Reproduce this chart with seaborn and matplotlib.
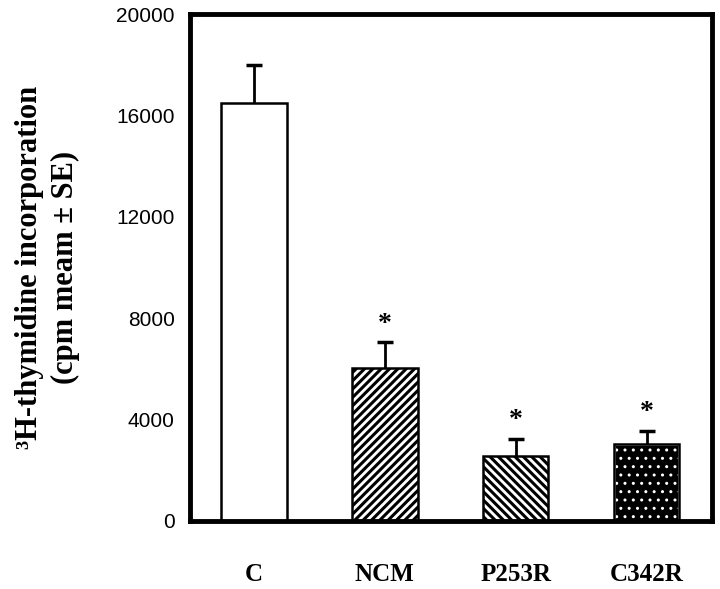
import numpy as np
import pandas as pd
import matplotlib
matplotlib.use('Agg')
import matplotlib.pyplot as plt
from matplotlib.patches import Rectangle
import seaborn as sns

# Данные
groups = ['C', 'NCM', 'P253R', 'C342R']
cpm_mean = [16500, 6050, 2550, 3050]
cpm_se = [1500, 1000, 700, 500]
significant = [False, True, True, True]

sns.set_style('white')
plt.rcParams['hatch.linewidth'] = 2.2
plt.rcParams['text.color'] = 'black'
plt.rcParams['axes.labelcolor'] = 'black'
plt.rcParams['xtick.color'] = 'black'
plt.rcParams['ytick.color'] = 'black'

df = pd.DataFrame({'group': groups, 'cpm': cpm_mean})

fig = plt.figure(figsize=(7.2, 5.89), dpi=100)
ax = fig.add_axes([190 / 720, 68 / 589, 522 / 720, 507 / 589])

sns.barplot(data=df, x='group', y='cpm', color='white', width=0.5,
            edgecolor='black', linewidth=1.8, errorbar=None, ax=ax)

# штриховка
fills = ['white', 'white', 'white', 'black']
hatches = [None, '////', '\\\\\\\\', '..']
for p, fc, h in list(zip(ax.patches, fills, hatches)):
    p.set_facecolor(fc)
    if h:
        p.set_hatch(h)
    if fc == 'black':
        # белые точки на черном фоне + черная рамка сверху
        p.set_edgecolor('white')
        if hasattr(p, 'set_hatch_linewidth'):
            p.set_hatch_linewidth(1.0)
        ax.add_patch(Rectangle(p.get_xy(), p.get_width(), p.get_height(),
                               fill=False, edgecolor='black', linewidth=1.8,
                               zorder=p.get_zorder() + 0.1))

x = np.arange(len(groups))
eb = ax.errorbar(x, cpm_mean, yerr=[np.zeros(len(cpm_se)), cpm_se], fmt='none',
                 ecolor='black', elinewidth=2, capsize=5.5, capthick=2.5)
eb[1][0].set_visible(False)  # нижний колпачок не нужен

for xi, m, se, s in zip(x, cpm_mean, cpm_se, significant):
    if s:
        ax.text(xi, m + se + 720, '*', ha='center', va='center',
                fontsize=20, fontweight='bold', family='Liberation Serif')

ax.set_xlim(-0.49, 3.5)
ax.set_ylim(0, 20000)
ax.set_yticks([0, 4000, 8000, 12000, 16000, 20000])
ax.set_yticklabels(['0', '4000', '8000', '12000', '16000', '20000'],
                   family='Liberation Sans', fontsize=15)
ax.set_xticks(x)
ax.set_xticklabels(groups, family='Liberation Serif', fontweight='bold', fontsize=18)
ax.tick_params(axis='x', length=0, pad=30)
ax.tick_params(axis='y', length=0, pad=11)
ax.set_xlabel('')
ax.set_ylabel('³H-thymidine incorporation\n(cpm meam ± SE)',
              family='Liberation Serif', fontweight='bold', fontsize=22,
              labelpad=26, linespacing=1.3)

for sp in ax.spines.values():
    sp.set_visible(True)
    sp.set_linewidth(3.5)
    sp.set_color('black')

fig.savefig('out.png', dpi=100)
